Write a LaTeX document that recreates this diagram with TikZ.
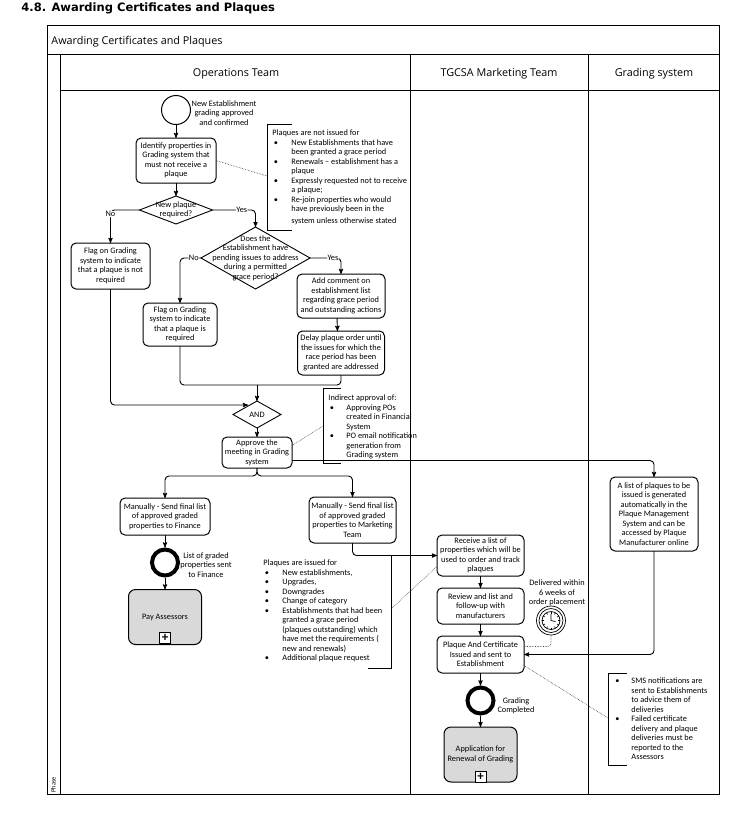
\documentclass[tikz,border=0pt]{standalone}
\usepackage{fontspec}
\usepackage{array}
\setmainfont{Carlito}
\newfontfamily\lanefont{Open Sans}
\newfontfamily\titlefont{DejaVu Sans}
\usetikzlibrary{arrows,positioning,shapes.geometric}
\newcommand{\itemdot}{\hspace{1.5pt}\textbullet}
\definecolor{taskgray}{HTML}{D9D9D9}
\tikzset{
  task/.style={draw,rounded corners=5pt,align=center,font=\fontsize{8.3}{9.5}\selectfont,inner sep=0pt,outer sep=0pt,line width=1pt},
  sub/.style={task,rounded corners=7pt,fill=taskgray,minimum width=73pt,minimum height=55pt},
  gate/.style={draw,diamond,inner sep=0pt,outer sep=0pt,line width=.9pt},
  gatetext/.style={align=center,font=\fontsize{8.3}{9.5}\selectfont},
  startev/.style={draw,circle,minimum size=29pt,inner sep=0pt,outer sep=0pt,line width=1pt},
  endev/.style={draw,circle,minimum size=26pt,inner sep=0pt,outer sep=2pt,line width=4pt},
  plus/.style={draw,fill=white,minimum size=11pt,inner sep=0pt,line width=.9pt,font=\bfseries\fontsize{13}{13}\selectfont},
  txt/.style={align=center,font=\fontsize{8.3}{9.5}\selectfont,inner sep=0pt},
  note/.style={anchor=north west,inner sep=0pt,font=\fontsize{8.3}{9.5}\selectfont},
  lbl/.style={fill=white,inner sep=.5pt,font=\fontsize{8.3}{9}\selectfont},
  lane/.style={font=\lanefont\fontsize{10.8}{12}\selectfont},
  assoc/.style={densely dotted,line width=.6pt,black!75},
  flow/.style={->,rounded corners=4pt}
}
\begin{document}
\begin{tikzpicture}[x=1pt,y=-1pt,>=stealth',semithick,line width=.9pt]
\useasboundingbox (0,0) rectangle (739,820);

% pool and lanes
\node[anchor=west,inner sep=0pt,font=\titlefont\bfseries\fontsize{11.5}{13}\selectfont] (Title) at (21,8) {4.8. Awarding Certificates and Plaques};
\coordinate (P1) at (47,25);
\coordinate (P2) at (719,794);
\draw (P1) rectangle (P2);
\draw (47,54) -- (719,54);
\draw (60,90) -- (719,90);
\foreach \x in {60,410,588} \draw (\x,54) -- (\x,794);
\node[lane,anchor=west,inner sep=0pt] (Pool) at (51,41.5) {Awarding Certificates and Plaques};
\node[lane] (L1) at (236,73.5) {Operations Team};
\node[lane] (L2) at (499,73.5) {TGCSA Marketing Team};
\node[lane] (L3) at (654,73.5) {Grading system};
\node[rotate=90,anchor=west,inner sep=0pt,font=\fontsize{6.5}{7}\selectfont] (Phase) at (53.5,793) {Phase};

% operations team
\node[startev] (Start) at (176,110) {};
\node[txt] (StartT) at (224,113) {New Establishment\\grading approved\\and confirmed};
\node[task,minimum width=80pt,minimum height=45pt] (Identify) [below=13.5pt of Start] {Identify properties in\\Grading system that\\must not receive a\\plaque};
\node[gate,minimum width=73pt,minimum height=28pt,label={[gatetext]center:New plaque\\required?}] (D1) [below=13pt of Identify] {};
\node[task,minimum width=79pt,minimum height=46pt] (F1) at (110.5,266) {Flag on Grading\\system to indicate\\that a plaque is not\\required};
\node[gate,minimum width=109pt,minimum height=62pt,label={[gatetext]center:Does the\\Establishment have\\pending issues to address\\during a permitted\\grace period?}] (D2) at (255.5,258) {};
\node[task,minimum width=74pt,minimum height=43pt] (F2) at (180,324.5) {Flag on Grading\\system to indicate\\that a plaque is\\required};
\node[task,minimum width=88pt,minimum height=44pt] (Add) at (341,296) {Add comment on\\establishment list\\regarding grace period\\and outstanding actions};
\node[task,minimum width=87pt,minimum height=44pt] (Delay) [below=13pt of Add] {Delay plaque order until\\the issues for which the\\race period has been\\granted are addressed};
\node[gate,minimum width=48pt,minimum height=27pt,label={[gatetext]center:AND}] (And) at (257,414.5) {};
\node[task,minimum width=70pt,minimum height=31pt] (Approve) [below=9pt of And] {Approve the\\meeting in Grading\\system};
\node[task,minimum width=90pt,minimum height=37pt] (M1) at (165,516.5) {Manually - Send final list\\of approved graded\\properties to Finance};
\node[task,minimum width=87pt,minimum height=46pt] (M2) at (352.5,520) {Manually - Send final list\\of approved graded\\properties to Marketing\\Team};
\node[endev] (End1) [below=12.5pt of M1] {};
\node[txt] (End1T) at (206,565) {List of graded\\properties sent\\to Finance};
\node[sub] (Pay) [below=12pt of End1] {Pay Assessors};
\node[plus] (PayP) at (165,638) {+};

% marketing team
\node[task,minimum width=87pt,minimum height=41pt] (Receive) at (480.5,555.5) {Receive a list of\\properties which will be\\used to order and track\\plaques};
\node[task,minimum width=87pt,minimum height=36pt] (Review) [below=12pt of Receive] {Review and list and\\follow-up with\\manufacturers};
\node[task,minimum width=87pt,minimum height=37pt] (Issue) [below=12pt of Review] {Plaque And Certificate\\Issued and sent to\\Establishment};
\node[endev] (End2) [below=12.5pt of Issue] {};
\node[txt] (End2T) at (516,706) {Grading\\Completed};
\node[sub] (App) [below=11.5pt of End2] {Application for\\Renewal of Grading};
\node[plus] (AppP) at (480.5,777) {+};
\node[txt] (TimerT) at (557,593) {Delivered within\\6 weeks of\\order placement};
\node[draw,circle,minimum size=29pt,inner sep=0pt,outer sep=0pt,line width=.7pt] (Timer) at (551,620.5) {};
\node[draw,circle,minimum size=24pt,inner sep=0pt,line width=.7pt] (TimerB) at (Timer) {};
\node[draw,circle,minimum size=18pt,inner sep=0pt,line width=.7pt] (TimerC) at (Timer) {};
\foreach \a in {0,30,...,330} \draw[line width=.6pt] (Timer)+(\a:7) -- +(\a:9);
\draw[line width=.7pt] (Timer)+(0,-6.5) -- (Timer.center) -- +(4.5,1);

% grading system
\node[task,minimum width=88pt,minimum height=74pt] (AList) at (654,514) {A list of plaques to be\\issued is generated\\automatically in the\\Plaque Management\\System and can be\\accessed by  Plaque\\Manufacturer online};

% notes
\node[note] (N1) at (272,128.5) {\begin{tabular}{@{}>{}p{19pt}@{}l@{}}
\multicolumn{2}{@{}l@{}}{Plaques are not issued for}\\
\itemdot & New Establishments  that have\\
 & been granted a grace period\\
\itemdot & Renewals -- establishment has a\\
 & plaque\\
\itemdot & Expressly requested not to receive\\
 & a plaque;\\
\itemdot & Re-join properties who would\\
 & have previously been in the\\[2.5pt]
 & system unless otherwise stated
\end{tabular}};
\node[note] (N2) at (328,393.5) {\begin{tabular}{@{}>{}p{18pt}@{}l@{}}
\multicolumn{2}{@{}l@{}}{Indirect approval of:}\\
\itemdot & Approving POs\\
 & created in Financial\\
 & System\\
\itemdot & PO email notification\\
 & generation from\\
 & Grading system
\end{tabular}};
\node[note] (N3) at (263,558.5) {\begin{tabular}{@{}>{}p{19pt}@{}l@{}}
\multicolumn{2}{@{}l@{}}{Plaques are issued for}\\
\itemdot & New establishments,\\
\itemdot & Upgrades,\\
\itemdot & Downgrades\\
\itemdot & Change of category\\
\itemdot & Establishments that had been\\
 & granted a grace period\\
 & (plaques outstanding) which\\
 & have met the requirements (\\
 & new and renewals)\\
\itemdot & Additional plaque request
\end{tabular}};
\node[note] (N4) at (613.5,676.5) {\begin{tabular}{@{}>{}p{17.5pt}@{}l@{}}
\itemdot & SMS notifications are\\
 & sent to Establishments\\
 & to advice them of\\
 & deliveries\\
\itemdot & Failed certificate\\
 & delivery and plaque\\
 & deliveries must be\\
 & reported to the\\
 & Assessors
\end{tabular}};

% brackets of the notes
\coordinate (B1a) at (292,124);
\coordinate (B1b) at (267,124);
\coordinate (B1c) at (267,230);
\coordinate (B1d) at (292,230);
\coordinate (B1m) at (267,176);
\draw (B1a) -- (B1b) -- (B1c) -- (B1d);
\coordinate (B2a) at (341,388);
\coordinate (B2b) at (323,388);
\coordinate (B2c) at (323,463);
\coordinate (B2d) at (341,463);
\coordinate (B2m) at (323,426);
\draw (B2a) -- (B2b) -- (B2c) -- (B2d);
\coordinate (B3a) at (391,556);
\coordinate (B3c) at (391,668);
\coordinate (B3d) at (368,668);
\coordinate (B3m) at (391,609);
\draw (B3a) -- (B3c) -- (B3d);
\coordinate (B4a) at (627,673);
\coordinate (B4b) at (608,673);
\coordinate (B4c) at (608,765);
\coordinate (B4d) at (627,765);
\coordinate (B4m) at (608,718);
\draw (B4a) -- (B4b) -- (B4c) -- (B4d);

% flows
\path (Start) edge[->] (Identify)
      (Identify) edge[->] (D1)
      (And) edge[->] (Approve)
      (M1) edge[->] (End1)
      (End1) edge[->] (Pay)
      (Receive) edge[->] (Review)
      (Review) edge[->] (Issue)
      (Issue) edge[->] (End2)
      (End2) edge[->] (App)
      ([xshift=-4pt]Add.south) edge[->] ([xshift=-3.5pt]Delay.north);

\draw[flow] (D1.west) -| node[lbl,pos=.56] {No} (F1.north);
\draw[flow] (D1.east) -| node[lbl,pos=.34] {Yes} (D2.north);
\draw[flow] (D2.west) -| node[lbl,pos=.17] {No} (F2.north);
\draw[flow] (D2.east) -| node[lbl,pos=.37] {Yes} (Add.north);

\coordinate (J1) at (257,385);
\coordinate (J2) at (248,405);
\coordinate (J3) at (257,476);
\draw[rounded corners=4pt] (F2.south) |- (J1);
\draw[rounded corners=4pt] (Delay.south) |- (J1);
\path (J1) edge[->] (And.north);
\draw[flow] (F1.south) |- (J2);
\draw[flow] (Approve.south) -- (J3) -| (M1.north);
\draw[flow] (Approve.south) -- (J3) -| (M2.north);
\draw[flow] ([yshift=-8pt]Approve.east) -| (AList.north);
\draw[flow] (M2.south) |- (Receive.west);
\draw[flow] (AList.south) |- (Issue.east);

% associations
\draw[assoc] (Identify.east) -- (B1m);
\draw[assoc] ([yshift=7pt]Approve.east) -- (B2m);
\draw[assoc] (B3m) -- ([yshift=-11pt]Receive.west);
\draw[assoc,rounded corners=3pt] ([yshift=8pt]Issue.east) -| (Timer.south);
\draw[assoc] ([yshift=-11pt]Issue.east) -- (B4m);
\end{tikzpicture}
\end{document}
